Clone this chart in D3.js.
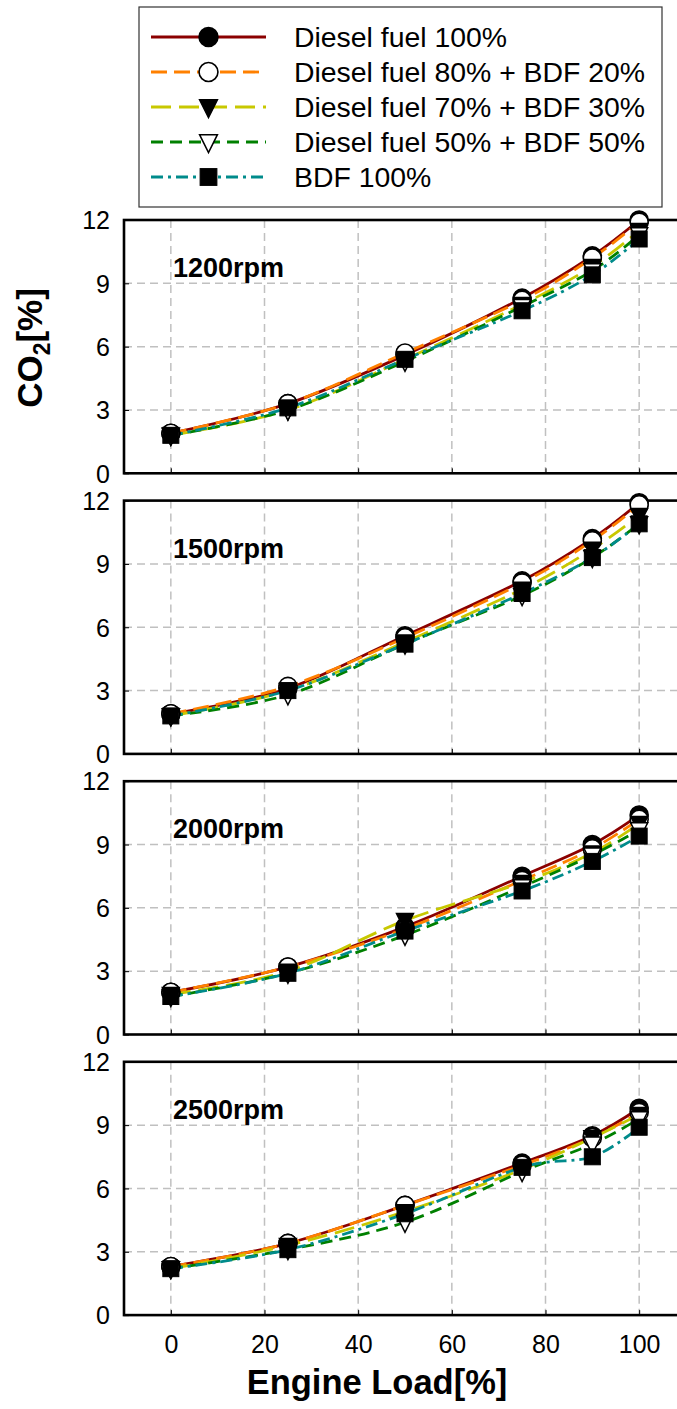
<!DOCTYPE html>
<html>
<head>
<meta charset="utf-8">
<script src="https://cdn.jsdelivr.net/npm/d3@7"></script>
<style>
  html, body { margin: 0; padding: 0; background: #fff; }
  svg { display: block; font-family: "Liberation Sans", Arial, sans-serif; }
</style>
</head>
<body>
<svg id="chart" width="677" height="1409"></svg>
<script>
// ---------------- DATA ----------------
const loads = [0, 25, 50, 75, 90, 100];
const xTickValues = [0, 20, 40, 60, 80, 100];
const yTickValues = [0, 3, 6, 9, 12];
const panelLabels = ["1200rpm", "1500rpm", "2000rpm", "2500rpm"];
const seriesNames = [
  "Diesel fuel 100%",
  "Diesel fuel 80% + BDF 20%",
  "Diesel fuel 70% + BDF 30%",
  "Diesel fuel 50% + BDF 50%",
  "BDF 100%"
];
// each array: one row per panel (1200, 1500, 2000, 2500 rpm), values at loads
const diesel100 = [
  [1.9, 3.3, 5.6, 8.3, 10.3, 12.0],
  [1.9, 3.1, 5.6, 8.2, 10.2, 11.9],
  [2.0, 3.2, 5.1, 7.5, 9.0, 10.4],
  [2.3, 3.4, 5.2, 7.2, 8.5, 9.8]
];
const diesel80bdf20 = [
  [1.9, 3.3, 5.7, 8.2, 10.2, 11.9],
  [1.9, 3.2, 5.5, 8.1, 10.1, 11.8],
  [2.0, 3.2, 5.0, 7.3, 8.8, 10.2],
  [2.3, 3.4, 5.2, 7.1, 8.4, 9.6]
];
const diesel70bdf30 = [
  [1.8, 3.0, 5.4, 8.0, 9.8, 11.5],
  [1.8, 3.0, 5.3, 7.8, 9.7, 11.3],
  [1.9, 3.0, 5.4, 7.2, 8.6, 10.0],
  [2.2, 3.3, 4.9, 6.9, 8.4, 9.5]
];
const diesel50bdf50 = [
  [1.8, 3.0, 5.3, 7.9, 9.6, 11.3],
  [1.8, 2.8, 5.2, 7.5, 9.3, 10.9],
  [1.8, 2.9, 4.7, 7.0, 8.5, 9.7],
  [2.2, 3.1, 4.4, 6.8, 8.1, 9.3]
];
const bdf100 = [
  [1.8, 3.1, 5.4, 7.7, 9.4, 11.1],
  [1.8, 3.0, 5.2, 7.6, 9.3, 10.9],
  [1.8, 2.9, 4.9, 6.8, 8.2, 9.4],
  [2.2, 3.1, 4.8, 7.0, 7.5, 8.9]
];
const seriesValues = [diesel100, diesel80bdf20, diesel70bdf30, diesel50bdf50, bdf100];

// ---------------- STYLES ----------------
const seriesStyle = [
  { color: "#8b0000", dash: null, marker: "circle", fill: "#000" },
  { color: "#ff8000", dash: "16,7", marker: "circle", fill: "#fff" },
  { color: "#c8c800", dash: "20,8", marker: "tri", fill: "#000" },
  { color: "#008000", dash: "12,7", marker: "tri", fill: "#fff" },
  { color: "#008b8b", dash: "12,5,3,5", marker: "square", fill: "#000" }
];

const svg = d3.select("#chart");
const x = d3.scaleLinear().domain([-10, 110]).range([124, 686]);
const panelTop0 = 220, panelStep = 280.6, panelH = 253.3;

function drawMarker(g, type, fill, cx, cy, scale) {
  const s = scale || 1;
  if (type === "circle") {
    g.append("circle").attr("cx", cx).attr("cy", cy).attr("r", 9 * s)
      .attr("fill", fill).attr("stroke", "#000").attr("stroke-width", 1.6);
  } else if (type === "square") {
    const h = 8 * s;
    g.append("rect").attr("x", cx - h).attr("y", cy - h).attr("width", 2 * h).attr("height", 2 * h)
      .attr("fill", fill).attr("stroke", "#000").attr("stroke-width", 1);
  } else {
    const w = 8.5 * s, up = 7 * s, dn = 10 * s;
    g.append("path").attr("d", `M${cx - w},${cy - up}L${cx + w},${cy - up}L${cx},${cy + dn}Z`)
      .attr("fill", fill).attr("stroke", "#000").attr("stroke-width", 1.5).attr("stroke-linejoin", "miter");
  }
}

panelLabels.forEach((label, p) => {
  const top = panelTop0 + p * panelStep;
  const y = d3.scaleLinear().domain([0, 12]).range([top + panelH, top]);
  const g = svg.append("g");

  // grid
  g.selectAll(".vg").data(xTickValues).join("line")
    .attr("x1", d => x(d)).attr("x2", d => x(d)).attr("y1", top).attr("y2", top + panelH)
    .attr("stroke", "#c0c0c0").attr("stroke-width", 1.5).attr("stroke-dasharray", "8,5");
  g.selectAll(".hg").data(yTickValues.filter(v => v > 0 && v < 12)).join("line")
    .attr("x1", x(-10)).attr("x2", x(110)).attr("y1", d => y(d)).attr("y2", d => y(d))
    .attr("stroke", "#c0c0c0").attr("stroke-width", 1.5).attr("stroke-dasharray", "8,5");

  // axes (inner ticks)
  const yAxis = d3.axisLeft(y).tickValues(yTickValues).tickSize(-5).tickPadding(14).tickFormat(d3.format("d"));
  const ya = g.append("g").attr("transform", `translate(${x(-10)},0)`).call(yAxis);
  ya.select(".domain").remove();
  ya.selectAll("line").attr("stroke", "#000").attr("stroke-width", 1);
  ya.selectAll("text").attr("font-size", 25).attr("fill", "#000").attr("dy", "0.35em");

  const xAxis = d3.axisBottom(x).tickValues(xTickValues).tickSize(-5).tickPadding(20);
  const xa = g.append("g").attr("transform", `translate(0,${top + panelH})`).call(xAxis);
  xa.select(".domain").remove();
  xa.selectAll("line").attr("stroke", "#000").attr("stroke-width", 1);
  if (p === panelLabels.length - 1) {
    xa.selectAll("text").attr("font-size", 25).attr("fill", "#000");
  } else {
    xa.selectAll("text").remove();
  }

  // frame
  g.append("rect").attr("x", x(-10)).attr("y", top).attr("width", x(110) - x(-10)).attr("height", panelH)
    .attr("fill", "none").attr("stroke", "#000").attr("stroke-width", 2.6);

  // panel label
  g.append("text").attr("x", 173).attr("y", top + 57).attr("font-size", 27).attr("font-weight", "bold")
    .attr("fill", "#000").text(label);

  // lines
  const line = d3.line().x((d, i) => x(loads[i])).y(d => y(d)).curve(d3.curveCatmullRom.alpha(0));
  seriesValues.forEach((sv, s) => {
    const st = seriesStyle[s];
    g.append("path").attr("d", line(sv[p])).attr("fill", "none").attr("stroke", st.color)
      .attr("stroke-width", 2.8).attr("stroke-dasharray", st.dash);
  });
  // markers
  seriesValues.forEach((sv, s) => {
    const st = seriesStyle[s];
    sv[p].forEach((v, i) => drawMarker(g, st.marker, st.fill, x(loads[i]), y(v)));
  });
});

// axis titles
svg.append("text").attr("x", 377).attr("y", 1394).attr("text-anchor", "middle")
  .attr("font-size", 34.5).attr("font-weight", "bold").attr("fill", "#000").text("Engine Load[%]");

const yt = svg.append("text").attr("transform", "translate(42,348) rotate(-90)")
  .attr("text-anchor", "middle").attr("font-size", 35).attr("font-weight", "bold").attr("fill", "#000");
yt.append("tspan").text("CO");
yt.append("tspan").attr("font-size", 23).attr("dy", 8).text("2");
yt.append("tspan").attr("dy", -8).text("[%]");

// legend
const lg = svg.append("g");
lg.append("rect").attr("x", 139).attr("y", 7).attr("width", 523).attr("height", 200)
  .attr("fill", "#fff").attr("stroke", "#333").attr("stroke-width", 1.2);
seriesNames.forEach((name, i) => {
  const st = seriesStyle[i];
  const base = 47 + i * 35;
  const ly = base - 10;
  lg.append("line").attr("x1", 151).attr("x2", 266).attr("y1", ly).attr("y2", ly)
    .attr("stroke", st.color).attr("stroke-width", 2.8).attr("stroke-dasharray", st.dash);
  drawMarker(lg, st.marker, st.fill, 208.5, ly, 1.05);
  lg.append("text").attr("x", 294).attr("y", base).attr("font-size", 28.4).attr("fill", "#000").text(name);
});
</script>
</body>
</html>
